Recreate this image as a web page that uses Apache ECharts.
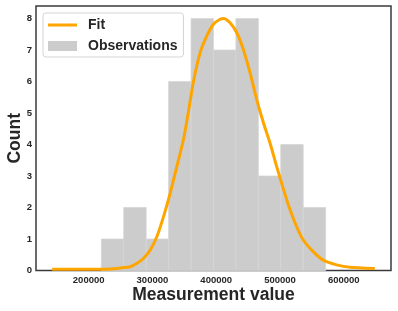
<!DOCTYPE html>
<html>
<head>
<meta charset="utf-8">
<script src="https://cdn.jsdelivr.net/npm/echarts@6/dist/echarts.min.js"></script>
<style>
html,body{margin:0;padding:0;background:#fff;}
#chart{width:398px;height:311px;}
</style>
</head>
<body>
<div id="chart"></div>
<script>
// Histogram bin edges and counts
var binEdges = [219875, 255045, 290215, 325385, 360555, 395725, 430895, 466065, 501235, 536405, 571575];
var counts = [1, 2, 1, 6, 8, 7, 8, 3, 4, 2];
// Fitted curve points
var fitX = [142720, 200000, 233960, 249610, 265260, 275750, 286080, 296560, 307040, 317380, 327860, 338350, 348680, 356500, 364330, 374800, 385290, 395620, 406100, 412360, 421750, 432240, 442570, 453050, 463540, 473900, 484360, 494850, 505180, 514560, 526150, 536480, 552130, 567780, 588750, 609560, 648690];
var fitY = [0.04, 0.04, 0.05, 0.08, 0.12, 0.23, 0.39, 0.65, 1.08, 1.71, 2.46, 3.31, 4.16, 5.05, 6.0, 6.92, 7.45, 7.82, 7.98, 8.0, 7.87, 7.55, 7.02, 6.28, 5.43, 4.7, 4.05, 3.3, 2.6, 2.0, 1.39, 0.97, 0.6, 0.33, 0.18, 0.1, 0.06];
var xTicks = [200000, 300000, 400000, 500000, 600000];
var yTicks = [0, 1, 2, 3, 4, 5, 6, 7, 8];

var histData = counts.map(function (c, i) { return [binEdges[i], binEdges[i + 1], c]; });
var fitData = fitX.map(function (x, i) { return [x, fitY[i]]; });

var FONT = '"Liberation Sans", Arial, sans-serif';
var TXT = '#262626';

var chart = echarts.init(document.getElementById('chart'), null, {renderer: 'canvas'});
chart.setOption({
  animation: false,
  backgroundColor: '#ffffff',
  grid: {left: 36, top: 6, right: 7, bottom: 40.5, containLabel: false, outerBoundsMode: 'none',
         show: true, borderColor: '#3a3a3a', borderWidth: 1.5, backgroundColor: 'transparent'},
  legend: {
    left: 43, top: 13,
    orient: 'vertical',
    padding: [5, 6, 4, 5],
    itemGap: 7,
    itemWidth: 29, itemHeight: 10,
    symbolKeepAspect: true,
    backgroundColor: '#ffffff',
    borderColor: '#d5d5d5', borderWidth: 1, borderRadius: 3,
    textStyle: {fontFamily: FONT, fontSize: 14, fontWeight: 'bold', color: TXT, padding: [0, 0, 0, 6]},
    data: [
      {name: 'Fit', icon: 'path://M0,0L29,0L29,3L0,3Z', itemStyle: {color: '#FFA500'}},
      {name: 'Observations', icon: 'rect', itemStyle: {color: '#cccccc', borderWidth: 0}}
    ]
  },
  xAxis: {
    type: 'value', min: 117400, max: 674100,
    name: 'Measurement value', nameLocation: 'middle', nameGap: 16, nameMoveOverlap: false,
    nameTextStyle: {fontFamily: FONT, fontSize: 17.5, fontWeight: 'bold', color: TXT},
    axisLine: {show: false}, axisTick: {show: false}, splitLine: {show: false},
    axisLabel: {customValues: xTicks, margin: 5, fontFamily: FONT, fontSize: 9.5, fontWeight: 'bold', color: TXT,
      formatter: function (v) { return String(v); }}
  },
  yAxis: {
    type: 'value', min: 0, max: 8.4,
    name: 'Count', nameLocation: 'middle', nameGap: 12, nameRotate: 90, nameMoveOverlap: false,
    nameTextStyle: {fontFamily: FONT, fontSize: 17.5, fontWeight: 'bold', color: TXT},
    axisLine: {show: false}, axisTick: {show: false}, splitLine: {show: false},
    axisLabel: {customValues: yTicks, margin: 4, fontFamily: FONT, fontSize: 9.5, fontWeight: 'bold', color: TXT,
      formatter: function (v) { return String(v); }}
  },
  series: [
    {
      name: 'Observations', type: 'custom', z: 1,
      itemStyle: {color: '#cccccc'},
      renderItem: function (params, api) {
        var p0 = api.coord([api.value(0), api.value(2)]);
        var p1 = api.coord([api.value(1), 0]);
        return {
          type: 'rect',
          shape: {x: p0[0], y: p0[1], width: p1[0] - p0[0], height: p1[1] - p0[1]},
          style: {fill: '#cccccc', stroke: '#d6d6d6', lineWidth: 0.8}
        };
      },
      encode: {x: [0, 1], y: 2},
      data: histData
    },
    {
      name: 'Fit', type: 'line', z: 3, smooth: 0.2, symbol: 'none',
      lineStyle: {color: '#FFA500', width: 3},
      itemStyle: {color: '#FFA500'},
      data: fitData
    }
  ]
});
</script>
</body>
</html>
